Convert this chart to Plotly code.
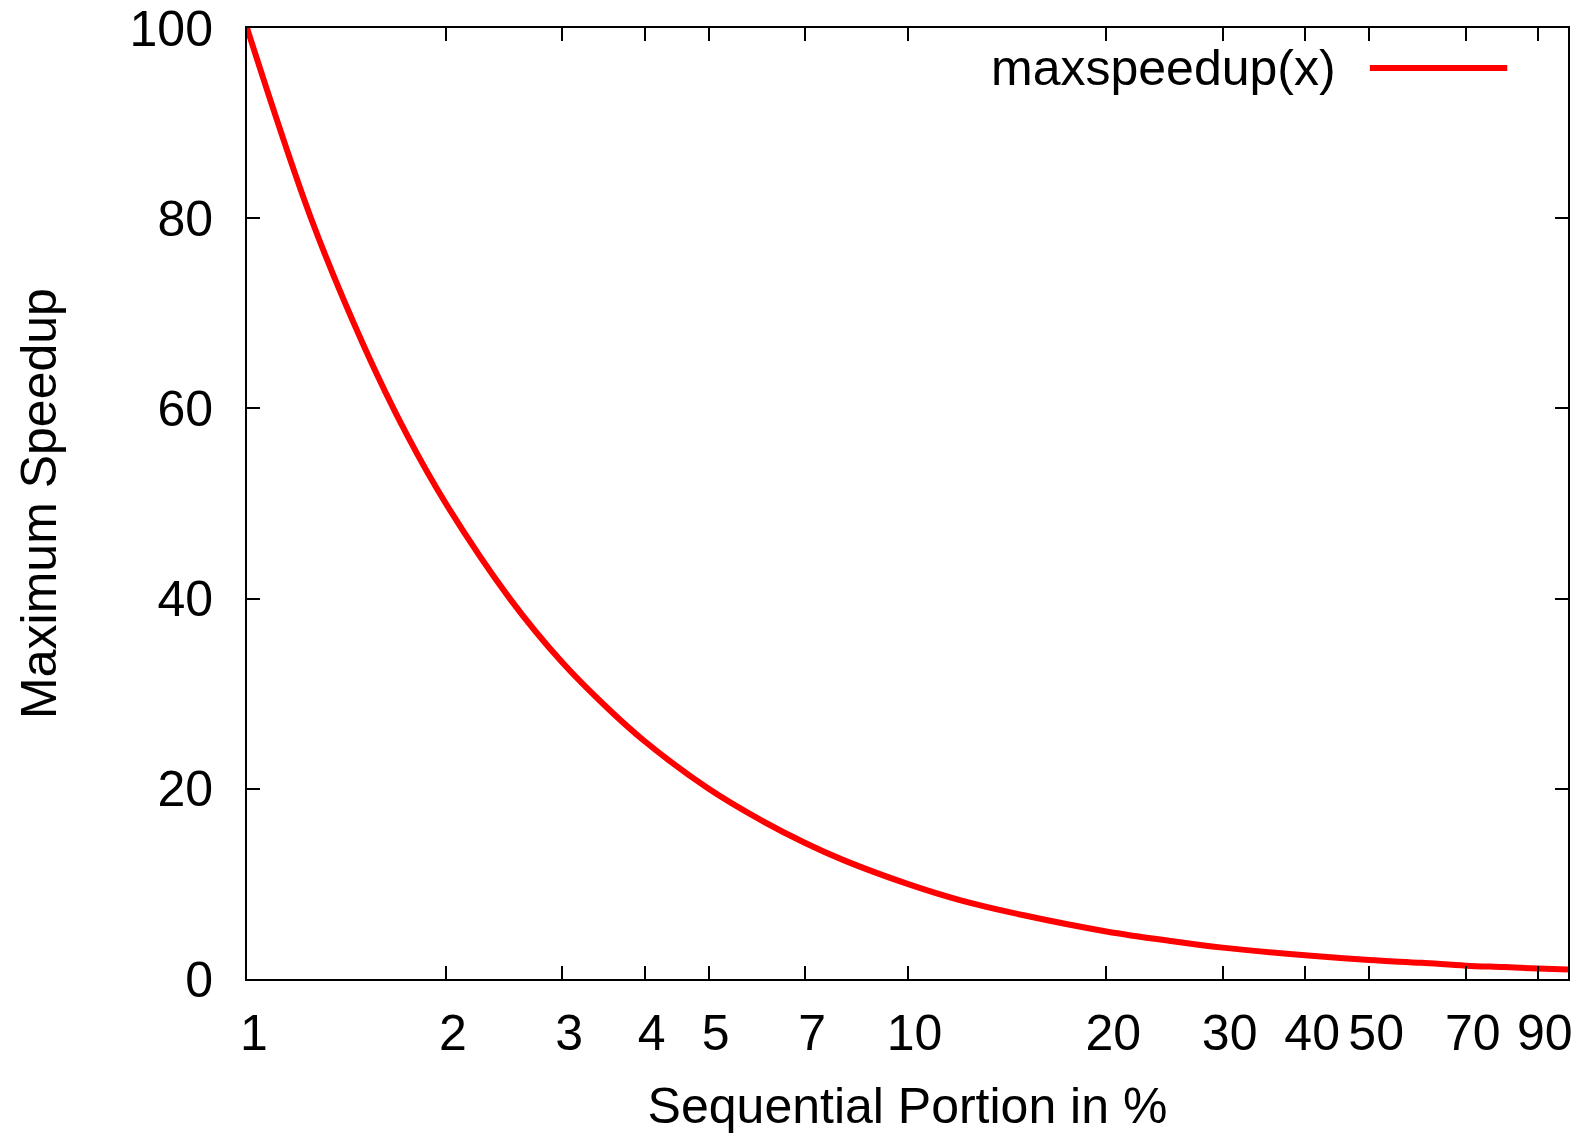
import plotly.graph_objects as go

# Values
seq_portion = [1, 1.25, 1.5, 1.75, 2, 2.5, 3, 3.5, 4, 5, 6, 7, 8, 10, 12, 15,
               20, 25, 30, 40, 50, 60, 70, 80, 90, 100]
max_speedup = [100, 80, 66.7, 57.1, 50, 40, 33.3, 28.6, 25, 20, 16.7, 14.3, 12.5,
               10, 8.3, 6.7, 5, 4, 3.3, 2.5, 2, 1.7, 1.4, 1.25, 1.1, 1.0]
x_tickvals = [1, 2, 3, 4, 5, 7, 10, 20, 30, 40, 50, 70, 90]
x_ticktext = ["1", "2", "3", "4", "5", "7", "10", "20", "30", "40", "50", "70", "90"]
y_tickvals = [0, 20, 40, 60, 80, 100]
series_name = "maxspeedup(x)"

FONT = "Liberation Sans, Arial, Helvetica, sans-serif"
FS = 50
RED = "#ff0000"

fig = go.Figure()
fig.add_trace(go.Scatter(
    x=seq_portion, y=max_speedup, mode="lines", name=series_name,
    line=dict(color=RED, width=6, shape="spline", smoothing=1.0),
    showlegend=False,
))

axis_common = dict(
    showline=True, linecolor="black", linewidth=2, mirror="ticks",
    ticks="inside", ticklen=13, tickwidth=2, tickcolor="black",
    showgrid=False, zeroline=False, automargin=False,
    tickfont=dict(family=FONT, size=FS, color="black"),
    title_font=dict(family=FONT, size=FS, color="black"),
)

fig.update_xaxes(
    type="log", range=[0, 2],
    tickvals=x_tickvals, ticktext=x_ticktext,
    ticklabelstandoff=9, ticklabelshift=7,
    title_text="Sequential Portion in %", title_standoff=30,
    **axis_common,
)
fig.update_yaxes(
    range=[0, 100], tickvals=y_tickvals,
    ticklabelstandoff=22,
    title_text="Maximum Speedup", title_standoff=57,
    **axis_common,
)

# gnuplot-style key: text followed by line sample
fig.add_annotation(
    xref="paper", yref="paper", x=0.826, y=0.958, xanchor="right", yanchor="middle",
    text=series_name, showarrow=False,
    font=dict(family=FONT, size=FS, color="black"),
)
fig.add_shape(
    type="line", xref="paper", yref="paper",
    x0=0.850, x1=0.954, y0=0.958, y1=0.958,
    line=dict(color=RED, width=6),
)

fig.update_layout(
    width=1580, height=1134,
    margin=dict(l=247, r=12, t=28, b=155),
    plot_bgcolor="white", paper_bgcolor="white",
    font=dict(family=FONT, color="black"),
)

fig.write_html("out.html")
